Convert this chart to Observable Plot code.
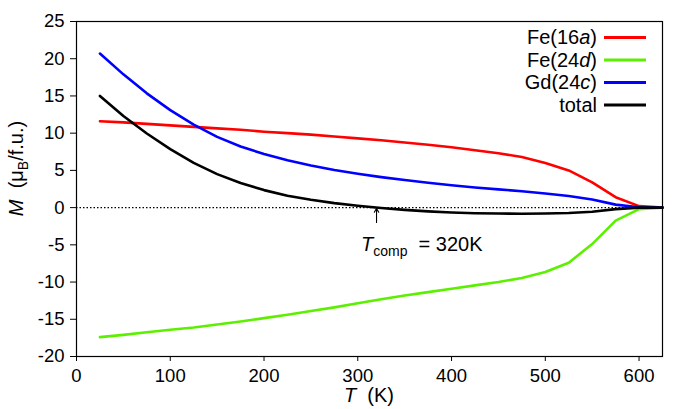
<!DOCTYPE html>
<html>
<head>
<meta charset="utf-8">
<script src="https://cdn.jsdelivr.net/npm/d3@7"></script>
<script src="https://cdn.jsdelivr.net/npm/@observablehq/plot@0.6"></script>
<style>
  html, body { margin: 0; padding: 0; background: white; }
  svg text { font-family: "Liberation Sans", Arial, sans-serif; }
</style>
</head>
<body>
<div id="chart"></div>
<script>
// ---- data ----
const T      = [25, 50, 75, 100, 125, 150, 175, 200, 225, 250, 275, 300, 325, 350, 375, 400, 425, 450, 475, 500, 525, 550, 575, 600, 625];
const fe16a  = [11.6, 11.45, 11.25, 11.05, 10.85, 10.65, 10.45, 10.2, 10.0, 9.8, 9.55, 9.3, 9.05, 8.75, 8.45, 8.1, 7.7, 7.3, 6.8, 6.0, 5.0, 3.4, 1.4, 0.2, 0];
const fe24d  = [-17.4, -17.1, -16.75, -16.4, -16.1, -15.7, -15.3, -14.85, -14.4, -13.9, -13.4, -12.85, -12.3, -11.8, -11.35, -10.9, -10.45, -10.0, -9.45, -8.65, -7.4, -4.9, -1.75, -0.2, 0];
const gd24c  = [20.7, 17.9, 15.35, 13.1, 11.15, 9.5, 8.2, 7.2, 6.35, 5.65, 5.05, 4.55, 4.1, 3.7, 3.35, 3.0, 2.7, 2.45, 2.2, 1.9, 1.55, 1.1, 0.4, 0.05, 0];
const total  = [15.0, 12.3, 9.95, 7.85, 6.0, 4.5, 3.3, 2.35, 1.6, 1.05, 0.6, 0.25, -0.05, -0.3, -0.5, -0.65, -0.75, -0.8, -0.82, -0.8, -0.72, -0.55, -0.2, 0, 0];

const seriesKeys   = ["Fe(16a)", "Fe(24d)", "Gd(24c)", "total"];
const seriesLabel  = [["Fe(16", "a", ")"], ["Fe(24", "d", ")"], ["Gd(24", "c", ")"], ["total", "", ""]];
const seriesValues = [fe16a, fe24d, gd24c, total];
const seriesColors = ["#ff0000", "#5cf000", "#0000ff", "#000000"];

const xTicks = [0, 100, 200, 300, 400, 500, 600];
const yTicks = [-20, -15, -10, -5, 0, 5, 10, 15, 20, 25];

const compT = 320;             // compensation temperature
const arrowM = [-2.0, -0.1];   // arrow from / to (M)

// ---- build rows ----
const rows = [];
seriesKeys.forEach((k, i) => {
  T.forEach((t, j) => rows.push({series: k, T: t, M: seriesValues[i][j]}));
});

const font = '"Liberation Sans", Arial, sans-serif';

const svg = Plot.plot({
  width: 680,
  height: 409,
  marginLeft: 76,
  marginRight: 18,
  marginTop: 21,
  marginBottom: 53,
  style: {fontFamily: font, fontSize: "18.5px", background: "white", color: "black", overflow: "visible"},
  x: {domain: [0, 625], ticks: xTicks, tickSize: 5, tickPadding: 7, label: null, tickFormat: d => String(d)},
  y: {domain: [-20, 25], ticks: yTicks, tickSize: 6, tickPadding: 6, label: null, tickFormat: d => String(d)},
  marks: [
    Plot.ruleY([0], {stroke: "black", strokeWidth: 1.2, strokeDasharray: "1.5,2"}),
    ...seriesKeys.map((k, i) =>
      Plot.line(rows.filter(r => r.series === k), {x: "T", y: "M", stroke: seriesColors[i], strokeWidth: 2.6, curve: "linear"})
    ),
    Plot.arrow([{x: compT, y1: arrowM[0], y2: arrowM[1]}], {x1: "x", x2: "x", y1: "y1", y2: "y2", stroke: "black", strokeWidth: 1.1, headLength: 6}),
    Plot.frame({stroke: "black", strokeWidth: 1.2})
  ]
});

document.getElementById("chart").appendChild(svg);

const root = d3.select(svg);
const xs = svg.scale("x"), ys = svg.scale("y");

// Axis labels
const yl = root.append("text")
  .attr("transform", `translate(23,${(ys.apply(25) + ys.apply(-20)) / 2 - 20}) rotate(-90)`)
  .attr("text-anchor", "middle")
  .style("font-size", "20px").style("white-space", "pre").attr("fill", "black");
yl.append("tspan").attr("font-style", "italic").text("M");
yl.append("tspan").text("  (μ");
yl.append("tspan").attr("dy", 5).style("font-size", "14px").text("B");
yl.append("tspan").attr("dy", -5).text("/f.u.)");

const xl = root.append("text")
  .attr("x", (xs.apply(0) + xs.apply(625)) / 2)
  .attr("y", 402)
  .attr("text-anchor", "middle")
  .style("font-size", "20px").style("white-space", "pre").attr("fill", "black");
xl.append("tspan").attr("font-style", "italic").text("T");
xl.append("tspan").text("  (K)");

// Annotation
const ann = root.append("text")
  .attr("x", xs.apply(compT) - 15)
  .attr("y", ys.apply(0) + 44)
  .attr("text-anchor", "start")
  .style("font-size", "20px").style("white-space", "pre").attr("fill", "black");
ann.append("tspan").attr("font-style", "italic").text("T");
ann.append("tspan").attr("dy", 5).style("font-size", "14px").text("comp");
ann.append("tspan").attr("dy", -5).text("  = " + compT + "K");

// Legend
const lg = root.append("g");
seriesKeys.forEach((k, i) => {
  const y = 37.5 + i * 22.5;
  const t = lg.append("text").attr("x", 597).attr("y", y + 6.5).attr("text-anchor", "end")
    .style("font-size", "20px").attr("fill", "black");
  t.append("tspan").text(seriesLabel[i][0]);
  if (seriesLabel[i][1]) t.append("tspan").attr("font-style", "italic").text(seriesLabel[i][1]);
  if (seriesLabel[i][2]) t.append("tspan").text(seriesLabel[i][2]);
  lg.append("line").attr("x1", 604).attr("x2", 646).attr("y1", y).attr("y2", y)
    .attr("stroke", seriesColors[i]).attr("stroke-width", 2.8);
});
</script>
</body>
</html>
